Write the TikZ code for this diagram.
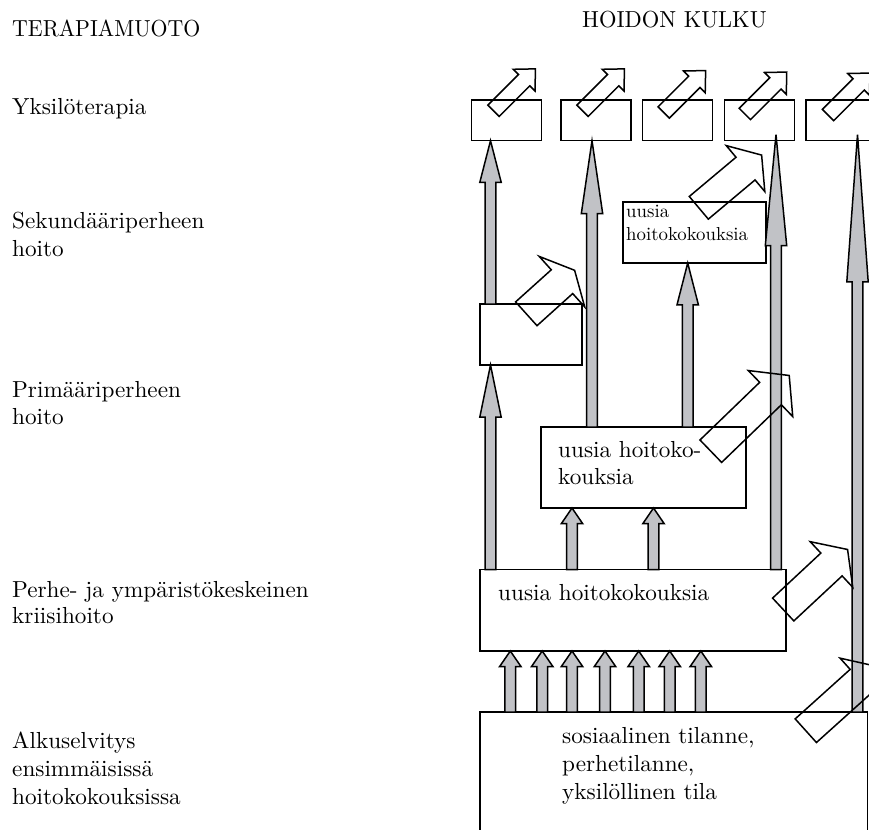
\documentclass[tikz,border=0pt]{standalone}
\usepackage{graphicx}
\usepackage{fontspec}
\setmainfont{lmroman10-regular.otf}
\usetikzlibrary{calc}
\definecolor{arrowgrey}{RGB}{193,194,198}

% upward grey block arrow between two points: [overshoot]{start}{end}
\newcommand\greyup[3][0pt]{%
  \path[greyarrow] let \p1=(#2), \p2=(#3), \n1={\y2+#1}, \n2={\n1-0.255*(\n1-\y1)} in
    (\x1-5.4pt,\y1) -- (\x1-5.4pt,\n2) -- (\x1-10.7pt,\n2) -- (\x1,\n1)
    -- (\x1+10.7pt,\n2) -- (\x1+5.4pt,\n2) -- (\x1+5.4pt,\y1) -- cycle;}

% outlined arrow: {tail centre}{angle}{shaft length}{half shaft}{half head}{head length}
\newcommand\hollowarrow[6]{%
  \draw[hollow, shift={#1}, rotate=#2] (0,-#4) -- (#3,-#4) -- (#3,-#5) -- ({#3+#6},0)
    -- (#3,#5) -- (#3,#4) -- (0,#4) -- cycle;}

\begin{document}
\begin{tikzpicture}[x=1pt,y=-1pt,
  box/.style={draw, line width=1.5pt, inner sep=0pt, outer sep=0pt, anchor=north west},
  txt/.style={inner sep=0pt, anchor=base west, font=\fontsize{23.2}{28}\selectfont},
  smalltxt/.style={inner sep=0pt, anchor=base west, font=\fontsize{18.8}{23}\selectfont},
  greyarrow/.style={draw=black, fill=arrowgrey, line width=1.5pt, line join=miter},
  hollow/.style={draw=black, line width=1.5pt, line join=miter},
]
\useasboundingbox (0,0) rectangle (869,829);
\clip (0,0) rectangle (869,829);

% column headings
\node[txt] (h1) at (12,37) {\scalebox{0.94}[1]{TERAPIAMUOTO}};
\node[txt] (h2) at (582,28) {\scalebox{0.97}[1]{HOIDON KULKU}};

% therapy forms
\node[txt] (f1)  at (12,115) {Yksilöterapia};
\node[txt] (f2a) at (12,228) {Sekundääriperheen};
\node[txt] (f2b) at (12,256) {hoito};
\node[txt] (f3a) at (12,397) {Primääriperheen};
\node[txt] (f3b) at (12,424) {hoito};
\node[txt] (f4a) at (12,597) {Perhe- ja ympäristökeskeinen};
\node[txt] (f4b) at (12,623) {kriisihoito};
\node[txt] (f5a) at (12,748) {Alkuselvitys};
\node[txt] (f5b) at (12,776) {ensimmäisissä};
\node[txt] (f5c) at (12,804) {hoitokokouksissa};

% boxes
\node[box, minimum width=70pt, minimum height=40.7pt] (y1) at (471.7,100) {};
\node[box, minimum width=70pt, minimum height=40.7pt] (y2) at (561,100) {};
\node[box, minimum width=70pt, minimum height=40.7pt] (y3) at (642.7,100) {};
\node[box, minimum width=70pt, minimum height=40.7pt] (y4) at (724.3,100) {};
\node[box, minimum width=70pt, minimum height=40.7pt] (y5) at (806,100) {};
\node[box, minimum width=102pt, minimum height=61pt] (sek1) at (480,304) {};
\node[box, minimum width=143pt, minimum height=61pt] (sek2) at (623,202) {};
\node[box, minimum width=205pt, minimum height=81pt] (prim) at (541,427) {};
\node[box, minimum width=306pt, minimum height=81.5pt] (kri) at (480,569.5) {};
\node[box, minimum width=387.3pt, minimum height=140pt] (alku) at (480,712) {};

% box texts
\node[smalltxt] (s2a) at (626,217) {uusia};
\node[smalltxt] (s2b) at (626,240) {hoitokokouksia};
\node[txt] (p1) at (558,457) {uusia hoitoko-};
\node[txt] (p2) at (558,484) {kouksia};
\node[txt] (k1) at (498,600) {uusia hoitokokouksia};
\node[txt] (a1) at (562,743) {sosiaalinen tilanne,};
\node[txt] (a2) at (562,771) {perhetilanne,};
\node[txt] (a3) at (562,799) {yksilöllinen tila};

% arrow columns
\coordinate (c1) at (490.5,0);
\coordinate (c2) at (592,0);
\coordinate (c3) at (572,0);
\coordinate (c4) at (653.5,0);
\coordinate (c5) at (687.7,0);
\coordinate (c6) at (776,0);
\coordinate (c7) at (857.5,0);

\greyup{c1 |- kri.north}{c1 |- sek1.south}
\greyup{c1 |- sek1.north}{c1 |- y1.south}
\greyup{c2 |- prim.north}{c2 |- y2.south}
\greyup{c3 |- kri.north}{c3 |- prim.south}
\greyup{c4 |- kri.north}{c4 |- prim.south}
\greyup{c5 |- prim.north}{c5 |- sek2.south}
\greyup[6pt]{c6 |- kri.north}{c6 |- y4.south}
\greyup[6pt]{c7 |- alku.north}{c7 |- y5.south}
\foreach \i/\xx in {1/510.3,2/542.2,3/572,4/605,5/638.7,6/669.7,7/700.8}{
  \coordinate (b\i) at (\xx,0);
  \greyup{b\i |- alku.north}{b\i |- kri.south}
}

% small outlined arrows on the top row
\hollowarrow{($(y1.north west)+(21.8,10.8)$)}{45}{43.3}{8}{15.4}{16}
\hollowarrow{($(y2.north west)+(21.5,10.8)$)}{45}{43.3}{8}{15.4}{16}
\hollowarrow{($(y3.north west)+(21,12.5)$)}{45}{43.3}{8}{15.4}{16}
\hollowarrow{($(y4.north west)+(20.5,14)$)}{45}{43.3}{8}{15.4}{16}
\hollowarrow{($(y5.north west)+(22,15)$)}{45}{43.3}{8}{15.4}{16}

% large outlined arrows
\hollowarrow{(526.3,313.8)}{42}{48}{16}{34}{17}
\hollowarrow{(698.8,207.8)}{40}{61}{14.8}{30}{21}
\hollowarrow{(710.8,451.2)}{44}{83}{15.6}{32}{26}
\hollowarrow{(783.2,609.5)}{43}{66}{15.6}{31.2}{22}
\hollowarrow{(805.8,730.7)}{42}{74}{15.9}{31}{22}
\end{tikzpicture}
\end{document}
